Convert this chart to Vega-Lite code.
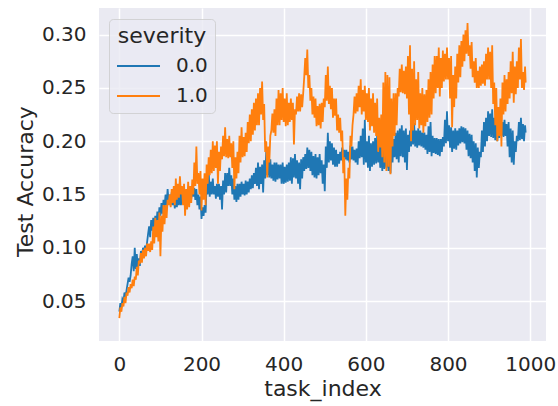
{
  "$schema": "https://vega.github.io/schema/vega-lite/v6.json",
  "width": 447,
  "height": 333,
  "autosize": "none",
  "padding": {"left": 99, "top": 8, "right": 12, "bottom": 65},
  "background": "white",
  "config": {
    "font": "DejaVu Sans",
    "view": {"fill": "#EAEAF2", "stroke": null},
    "axis": {
      "domain": false,
      "ticks": false,
      "grid": true,
      "gridColor": "white",
      "gridWidth": 1.5,
      "labelFontSize": 20,
      "titleFontSize": 22,
      "labelColor": "#262626",
      "titleColor": "#262626",
      "titleFontWeight": "normal",
      "labelPadding": 13
    }
  },
  "data": {"values": [
{"t":0,"s":"0.0","v":0.040},{"t":2.5,"s":"0.0","v":0.048},{"t":5,"s":"0.0","v":0.044},{"t":7.5,"s":"0.0","v":0.052},
{"t":10,"s":"0.0","v":0.050},{"t":12.5,"s":"0.0","v":0.058},{"t":15,"s":"0.0","v":0.053},{"t":17.5,"s":"0.0","v":0.060},
{"t":20,"s":"0.0","v":0.066},{"t":22.5,"s":"0.0","v":0.072},{"t":25,"s":"0.0","v":0.068},{"t":27.5,"s":"0.0","v":0.074},
{"t":30,"s":"0.0","v":0.085},{"t":32.5,"s":"0.0","v":0.092},{"t":35,"s":"0.0","v":0.078},{"t":37.5,"s":"0.0","v":0.100},
{"t":40,"s":"0.0","v":0.080},{"t":42.5,"s":"0.0","v":0.094},{"t":45,"s":"0.0","v":0.082},{"t":47.5,"s":"0.0","v":0.090},
{"t":50,"s":"0.0","v":0.083},{"t":52.5,"s":"0.0","v":0.097},{"t":55,"s":"0.0","v":0.088},{"t":57.5,"s":"0.0","v":0.100},
{"t":60,"s":"0.0","v":0.094},{"t":62.5,"s":"0.0","v":0.102},{"t":65,"s":"0.0","v":0.098},{"t":67.5,"s":"0.0","v":0.105},
{"t":70,"s":"0.0","v":0.113},{"t":72.5,"s":"0.0","v":0.120},{"t":75,"s":"0.0","v":0.110},{"t":77.5,"s":"0.0","v":0.126},
{"t":80,"s":"0.0","v":0.116},{"t":82.5,"s":"0.0","v":0.128},{"t":85,"s":"0.0","v":0.118},{"t":87.5,"s":"0.0","v":0.130},
{"t":90,"s":"0.0","v":0.120},{"t":92.5,"s":"0.0","v":0.134},{"t":95,"s":"0.0","v":0.124},{"t":97.5,"s":"0.0","v":0.138},
{"t":100,"s":"0.0","v":0.130},{"t":102.5,"s":"0.0","v":0.142},{"t":105,"s":"0.0","v":0.132},{"t":107.5,"s":"0.0","v":0.145},
{"t":110,"s":"0.0","v":0.138},{"t":112.5,"s":"0.0","v":0.150},{"t":115,"s":"0.0","v":0.140},{"t":117.5,"s":"0.0","v":0.155},
{"t":120,"s":"0.0","v":0.143},{"t":122.5,"s":"0.0","v":0.150},{"t":125,"s":"0.0","v":0.140},{"t":127.5,"s":"0.0","v":0.152},
{"t":130,"s":"0.0","v":0.140},{"t":132.5,"s":"0.0","v":0.148},{"t":135,"s":"0.0","v":0.137},{"t":137.5,"s":"0.0","v":0.150},
{"t":140,"s":"0.0","v":0.138},{"t":142.5,"s":"0.0","v":0.149},{"t":145,"s":"0.0","v":0.140},{"t":147.5,"s":"0.0","v":0.152},
{"t":150,"s":"0.0","v":0.140},{"t":152.5,"s":"0.0","v":0.152},{"t":155,"s":"0.0","v":0.143},{"t":157.5,"s":"0.0","v":0.155},
{"t":160,"s":"0.0","v":0.142},{"t":162.5,"s":"0.0","v":0.150},{"t":165,"s":"0.0","v":0.141},{"t":167.5,"s":"0.0","v":0.153},
{"t":170,"s":"0.0","v":0.145},{"t":172.5,"s":"0.0","v":0.155},{"t":175,"s":"0.0","v":0.146},{"t":177.5,"s":"0.0","v":0.158},
{"t":180,"s":"0.0","v":0.148},{"t":182.5,"s":"0.0","v":0.156},{"t":185,"s":"0.0","v":0.145},{"t":187.5,"s":"0.0","v":0.155},
{"t":190,"s":"0.0","v":0.140},{"t":192.5,"s":"0.0","v":0.150},{"t":195,"s":"0.0","v":0.136},{"t":197.5,"s":"0.0","v":0.148},
{"t":200,"s":"0.0","v":0.127},{"t":202.5,"s":"0.0","v":0.138},{"t":205,"s":"0.0","v":0.130},{"t":207.5,"s":"0.0","v":0.140},
{"t":210,"s":"0.0","v":0.133},{"t":212.5,"s":"0.0","v":0.160},{"t":215,"s":"0.0","v":0.150},{"t":217.5,"s":"0.0","v":0.172},
{"t":220,"s":"0.0","v":0.148},{"t":222.5,"s":"0.0","v":0.162},{"t":225,"s":"0.0","v":0.150},{"t":227.5,"s":"0.0","v":0.165},
{"t":230,"s":"0.0","v":0.150},{"t":232.5,"s":"0.0","v":0.158},{"t":235,"s":"0.0","v":0.146},{"t":237.5,"s":"0.0","v":0.160},
{"t":240,"s":"0.0","v":0.148},{"t":242.5,"s":"0.0","v":0.160},{"t":245,"s":"0.0","v":0.145},{"t":247.5,"s":"0.0","v":0.158},
{"t":250,"s":"0.0","v":0.136},{"t":252.5,"s":"0.0","v":0.163},{"t":255,"s":"0.0","v":0.150},{"t":257.5,"s":"0.0","v":0.170},
{"t":260,"s":"0.0","v":0.152},{"t":262.5,"s":"0.0","v":0.170},{"t":265,"s":"0.0","v":0.158},{"t":267.5,"s":"0.0","v":0.175},
{"t":270,"s":"0.0","v":0.158},{"t":272.5,"s":"0.0","v":0.168},{"t":275,"s":"0.0","v":0.150},{"t":277.5,"s":"0.0","v":0.165},
{"t":280,"s":"0.0","v":0.145},{"t":282.5,"s":"0.0","v":0.158},{"t":285,"s":"0.0","v":0.143},{"t":287.5,"s":"0.0","v":0.160},
{"t":290,"s":"0.0","v":0.145},{"t":292.5,"s":"0.0","v":0.160},{"t":295,"s":"0.0","v":0.148},{"t":297.5,"s":"0.0","v":0.162},
{"t":300,"s":"0.0","v":0.150},{"t":302.5,"s":"0.0","v":0.160},{"t":305,"s":"0.0","v":0.149},{"t":307.5,"s":"0.0","v":0.163},
{"t":310,"s":"0.0","v":0.150},{"t":312.5,"s":"0.0","v":0.162},{"t":315,"s":"0.0","v":0.152},{"t":317.5,"s":"0.0","v":0.165},
{"t":320,"s":"0.0","v":0.155},{"t":322.5,"s":"0.0","v":0.168},{"t":325,"s":"0.0","v":0.156},{"t":327.5,"s":"0.0","v":0.170},
{"t":330,"s":"0.0","v":0.160},{"t":332.5,"s":"0.0","v":0.175},{"t":335,"s":"0.0","v":0.158},{"t":337.5,"s":"0.0","v":0.180},
{"t":340,"s":"0.0","v":0.155},{"t":342.5,"s":"0.0","v":0.176},{"t":345,"s":"0.0","v":0.160},{"t":347.5,"s":"0.0","v":0.178},
{"t":350,"s":"0.0","v":0.152},{"t":352.5,"s":"0.0","v":0.182},{"t":355,"s":"0.0","v":0.165},{"t":357.5,"s":"0.0","v":0.190},
{"t":360,"s":"0.0","v":0.168},{"t":362.5,"s":"0.0","v":0.184},{"t":365,"s":"0.0","v":0.166},{"t":367.5,"s":"0.0","v":0.183},
{"t":370,"s":"0.0","v":0.165},{"t":372.5,"s":"0.0","v":0.178},{"t":375,"s":"0.0","v":0.163},{"t":377.5,"s":"0.0","v":0.180},
{"t":380,"s":"0.0","v":0.162},{"t":382.5,"s":"0.0","v":0.180},{"t":385,"s":"0.0","v":0.164},{"t":387.5,"s":"0.0","v":0.178},
{"t":390,"s":"0.0","v":0.165},{"t":392.5,"s":"0.0","v":0.178},{"t":395,"s":"0.0","v":0.160},{"t":397.5,"s":"0.0","v":0.180},
{"t":400,"s":"0.0","v":0.160},{"t":402.5,"s":"0.0","v":0.176},{"t":405,"s":"0.0","v":0.161},{"t":407.5,"s":"0.0","v":0.178},
{"t":410,"s":"0.0","v":0.162},{"t":412.5,"s":"0.0","v":0.180},{"t":415,"s":"0.0","v":0.163},{"t":417.5,"s":"0.0","v":0.185},
{"t":420,"s":"0.0","v":0.160},{"t":422.5,"s":"0.0","v":0.184},{"t":425,"s":"0.0","v":0.166},{"t":427.5,"s":"0.0","v":0.188},
{"t":430,"s":"0.0","v":0.165},{"t":432.5,"s":"0.0","v":0.182},{"t":435,"s":"0.0","v":0.160},{"t":437.5,"s":"0.0","v":0.180},
{"t":440,"s":"0.0","v":0.155},{"t":442.5,"s":"0.0","v":0.183},{"t":445,"s":"0.0","v":0.165},{"t":447.5,"s":"0.0","v":0.185},
{"t":450,"s":"0.0","v":0.172},{"t":452.5,"s":"0.0","v":0.188},{"t":455,"s":"0.0","v":0.174},{"t":457.5,"s":"0.0","v":0.194},
{"t":460,"s":"0.0","v":0.175},{"t":462.5,"s":"0.0","v":0.192},{"t":465,"s":"0.0","v":0.172},{"t":467.5,"s":"0.0","v":0.190},
{"t":470,"s":"0.0","v":0.168},{"t":472.5,"s":"0.0","v":0.186},{"t":475,"s":"0.0","v":0.166},{"t":477.5,"s":"0.0","v":0.188},
{"t":480,"s":"0.0","v":0.165},{"t":482.5,"s":"0.0","v":0.185},{"t":485,"s":"0.0","v":0.168},{"t":487.5,"s":"0.0","v":0.188},
{"t":490,"s":"0.0","v":0.170},{"t":492.5,"s":"0.0","v":0.182},{"t":495,"s":"0.0","v":0.160},{"t":497.5,"s":"0.0","v":0.178},
{"t":500,"s":"0.0","v":0.153},{"t":502.5,"s":"0.0","v":0.195},{"t":505,"s":"0.0","v":0.175},{"t":507.5,"s":"0.0","v":0.208},
{"t":510,"s":"0.0","v":0.180},{"t":512.5,"s":"0.0","v":0.200},{"t":515,"s":"0.0","v":0.182},{"t":517.5,"s":"0.0","v":0.198},
{"t":520,"s":"0.0","v":0.178},{"t":522.5,"s":"0.0","v":0.194},{"t":525,"s":"0.0","v":0.176},{"t":527.5,"s":"0.0","v":0.192},
{"t":530,"s":"0.0","v":0.176},{"t":532.5,"s":"0.0","v":0.188},{"t":535,"s":"0.0","v":0.179},{"t":537.5,"s":"0.0","v":0.190},
{"t":540,"s":"0.0","v":0.182},{"t":542.5,"s":"0.0","v":0.194},{"t":545,"s":"0.0","v":0.181},{"t":547.5,"s":"0.0","v":0.192},
{"t":550,"s":"0.0","v":0.183},{"t":552.5,"s":"0.0","v":0.192},{"t":555,"s":"0.0","v":0.182},{"t":557.5,"s":"0.0","v":0.190},
{"t":560,"s":"0.0","v":0.180},{"t":562.5,"s":"0.0","v":0.196},{"t":565,"s":"0.0","v":0.183},{"t":567.5,"s":"0.0","v":0.195},
{"t":570,"s":"0.0","v":0.182},{"t":572.5,"s":"0.0","v":0.192},{"t":575,"s":"0.0","v":0.180},{"t":577.5,"s":"0.0","v":0.193},
{"t":580,"s":"0.0","v":0.178},{"t":582.5,"s":"0.0","v":0.200},{"t":585,"s":"0.0","v":0.184},{"t":587.5,"s":"0.0","v":0.205},
{"t":590,"s":"0.0","v":0.185},{"t":592.5,"s":"0.0","v":0.212},{"t":595,"s":"0.0","v":0.178},{"t":597.5,"s":"0.0","v":0.220},
{"t":600,"s":"0.0","v":0.180},{"t":602.5,"s":"0.0","v":0.200},{"t":605,"s":"0.0","v":0.175},{"t":607.5,"s":"0.0","v":0.205},
{"t":610,"s":"0.0","v":0.172},{"t":612.5,"s":"0.0","v":0.198},{"t":615,"s":"0.0","v":0.176},{"t":617.5,"s":"0.0","v":0.200},
{"t":620,"s":"0.0","v":0.178},{"t":622.5,"s":"0.0","v":0.203},{"t":625,"s":"0.0","v":0.179},{"t":627.5,"s":"0.0","v":0.205},
{"t":630,"s":"0.0","v":0.180},{"t":632.5,"s":"0.0","v":0.200},{"t":635,"s":"0.0","v":0.175},{"t":637.5,"s":"0.0","v":0.198},
{"t":640,"s":"0.0","v":0.172},{"t":642.5,"s":"0.0","v":0.198},{"t":645,"s":"0.0","v":0.174},{"t":647.5,"s":"0.0","v":0.200},
{"t":650,"s":"0.0","v":0.175},{"t":652.5,"s":"0.0","v":0.200},{"t":655,"s":"0.0","v":0.172},{"t":657.5,"s":"0.0","v":0.198},
{"t":660,"s":"0.0","v":0.170},{"t":662.5,"s":"0.0","v":0.200},{"t":665,"s":"0.0","v":0.180},{"t":667.5,"s":"0.0","v":0.202},
{"t":670,"s":"0.0","v":0.185},{"t":672.5,"s":"0.0","v":0.208},{"t":675,"s":"0.0","v":0.183},{"t":677.5,"s":"0.0","v":0.210},
{"t":680,"s":"0.0","v":0.180},{"t":682.5,"s":"0.0","v":0.212},{"t":685,"s":"0.0","v":0.186},{"t":687.5,"s":"0.0","v":0.215},
{"t":690,"s":"0.0","v":0.185},{"t":692.5,"s":"0.0","v":0.210},{"t":695,"s":"0.0","v":0.180},{"t":697.5,"s":"0.0","v":0.212},
{"t":700,"s":"0.0","v":0.173},{"t":702.5,"s":"0.0","v":0.206},{"t":705,"s":"0.0","v":0.190},{"t":707.5,"s":"0.0","v":0.210},
{"t":710,"s":"0.0","v":0.195},{"t":712.5,"s":"0.0","v":0.214},{"t":715,"s":"0.0","v":0.197},{"t":717.5,"s":"0.0","v":0.217},
{"t":720,"s":"0.0","v":0.195},{"t":722.5,"s":"0.0","v":0.210},{"t":725,"s":"0.0","v":0.194},{"t":727.5,"s":"0.0","v":0.212},
{"t":730,"s":"0.0","v":0.196},{"t":732.5,"s":"0.0","v":0.210},{"t":735,"s":"0.0","v":0.195},{"t":737.5,"s":"0.0","v":0.208},
{"t":740,"s":"0.0","v":0.194},{"t":742.5,"s":"0.0","v":0.208},{"t":745,"s":"0.0","v":0.192},{"t":747.5,"s":"0.0","v":0.206},
{"t":750,"s":"0.0","v":0.188},{"t":752.5,"s":"0.0","v":0.214},{"t":755,"s":"0.0","v":0.190},{"t":757.5,"s":"0.0","v":0.218},
{"t":760,"s":"0.0","v":0.186},{"t":762.5,"s":"0.0","v":0.205},{"t":765,"s":"0.0","v":0.189},{"t":767.5,"s":"0.0","v":0.203},
{"t":770,"s":"0.0","v":0.188},{"t":772.5,"s":"0.0","v":0.203},{"t":775,"s":"0.0","v":0.187},{"t":777.5,"s":"0.0","v":0.202},
{"t":780,"s":"0.0","v":0.186},{"t":782.5,"s":"0.0","v":0.202},{"t":785,"s":"0.0","v":0.190},{"t":787.5,"s":"0.0","v":0.204},
{"t":790,"s":"0.0","v":0.195},{"t":792.5,"s":"0.0","v":0.220},{"t":795,"s":"0.0","v":0.198},{"t":797.5,"s":"0.0","v":0.228},
{"t":800,"s":"0.0","v":0.200},{"t":802.5,"s":"0.0","v":0.215},{"t":805,"s":"0.0","v":0.194},{"t":807.5,"s":"0.0","v":0.213},
{"t":810,"s":"0.0","v":0.190},{"t":812.5,"s":"0.0","v":0.210},{"t":815,"s":"0.0","v":0.193},{"t":817.5,"s":"0.0","v":0.212},
{"t":820,"s":"0.0","v":0.192},{"t":822.5,"s":"0.0","v":0.210},{"t":825,"s":"0.0","v":0.196},{"t":827.5,"s":"0.0","v":0.212},
{"t":830,"s":"0.0","v":0.198},{"t":832.5,"s":"0.0","v":0.214},{"t":835,"s":"0.0","v":0.199},{"t":837.5,"s":"0.0","v":0.213},
{"t":840,"s":"0.0","v":0.198},{"t":842.5,"s":"0.0","v":0.212},{"t":845,"s":"0.0","v":0.192},{"t":847.5,"s":"0.0","v":0.210},
{"t":850,"s":"0.0","v":0.186},{"t":852.5,"s":"0.0","v":0.207},{"t":855,"s":"0.0","v":0.184},{"t":857.5,"s":"0.0","v":0.206},
{"t":860,"s":"0.0","v":0.180},{"t":862.5,"s":"0.0","v":0.200},{"t":865,"s":"0.0","v":0.172},{"t":867.5,"s":"0.0","v":0.198},
{"t":870,"s":"0.0","v":0.166},{"t":872.5,"s":"0.0","v":0.194},{"t":875,"s":"0.0","v":0.175},{"t":877.5,"s":"0.0","v":0.190},
{"t":880,"s":"0.0","v":0.185},{"t":882.5,"s":"0.0","v":0.210},{"t":885,"s":"0.0","v":0.190},{"t":887.5,"s":"0.0","v":0.218},
{"t":890,"s":"0.0","v":0.195},{"t":892.5,"s":"0.0","v":0.222},{"t":895,"s":"0.0","v":0.200},{"t":897.5,"s":"0.0","v":0.228},
{"t":900,"s":"0.0","v":0.205},{"t":902.5,"s":"0.0","v":0.226},{"t":905,"s":"0.0","v":0.204},{"t":907.5,"s":"0.0","v":0.230},
{"t":910,"s":"0.0","v":0.203},{"t":912.5,"s":"0.0","v":0.222},{"t":915,"s":"0.0","v":0.201},{"t":917.5,"s":"0.0","v":0.225},
{"t":920,"s":"0.0","v":0.200},{"t":922.5,"s":"0.0","v":0.218},{"t":925,"s":"0.0","v":0.203},{"t":927.5,"s":"0.0","v":0.220},
{"t":930,"s":"0.0","v":0.205},{"t":932.5,"s":"0.0","v":0.218},{"t":935,"s":"0.0","v":0.204},{"t":937.5,"s":"0.0","v":0.220},
{"t":940,"s":"0.0","v":0.205},{"t":942.5,"s":"0.0","v":0.216},{"t":945,"s":"0.0","v":0.195},{"t":947.5,"s":"0.0","v":0.218},
{"t":950,"s":"0.0","v":0.185},{"t":952.5,"s":"0.0","v":0.212},{"t":955,"s":"0.0","v":0.180},{"t":957.5,"s":"0.0","v":0.210},
{"t":960,"s":"0.0","v":0.178},{"t":962.5,"s":"0.0","v":0.200},{"t":965,"s":"0.0","v":0.190},{"t":967.5,"s":"0.0","v":0.205},
{"t":970,"s":"0.0","v":0.200},{"t":972.5,"s":"0.0","v":0.218},{"t":975,"s":"0.0","v":0.201},{"t":977.5,"s":"0.0","v":0.222},
{"t":980,"s":"0.0","v":0.202},{"t":982.5,"s":"0.0","v":0.216},{"t":985,"s":"0.0","v":0.200},{"t":987.5,"s":"0.0","v":0.215},
{"t":989,"s":"0.0","v":0.208},
{"t":0,"s":"1.0","v":0.034},{"t":2.5,"s":"1.0","v":0.044},{"t":5,"s":"1.0","v":0.040},{"t":7.5,"s":"1.0","v":0.048},
{"t":10,"s":"1.0","v":0.045},{"t":12.5,"s":"1.0","v":0.054},{"t":15,"s":"1.0","v":0.048},{"t":17.5,"s":"1.0","v":0.058},
{"t":20,"s":"1.0","v":0.055},{"t":22.5,"s":"1.0","v":0.063},{"t":25,"s":"1.0","v":0.058},{"t":27.5,"s":"1.0","v":0.066},
{"t":30,"s":"1.0","v":0.062},{"t":32.5,"s":"1.0","v":0.070},{"t":35,"s":"1.0","v":0.064},{"t":37.5,"s":"1.0","v":0.073},
{"t":40,"s":"1.0","v":0.070},{"t":42.5,"s":"1.0","v":0.082},{"t":45,"s":"1.0","v":0.074},{"t":47.5,"s":"1.0","v":0.088},
{"t":50,"s":"1.0","v":0.085},{"t":52.5,"s":"1.0","v":0.095},{"t":55,"s":"1.0","v":0.086},{"t":57.5,"s":"1.0","v":0.098},
{"t":60,"s":"1.0","v":0.090},{"t":62.5,"s":"1.0","v":0.100},{"t":65,"s":"1.0","v":0.092},{"t":67.5,"s":"1.0","v":0.104},
{"t":70,"s":"1.0","v":0.097},{"t":72.5,"s":"1.0","v":0.104},{"t":75,"s":"1.0","v":0.096},{"t":77.5,"s":"1.0","v":0.106},
{"t":80,"s":"1.0","v":0.098},{"t":82.5,"s":"1.0","v":0.120},{"t":85,"s":"1.0","v":0.104},{"t":87.5,"s":"1.0","v":0.128},
{"t":90,"s":"1.0","v":0.110},{"t":92.5,"s":"1.0","v":0.126},{"t":95,"s":"1.0","v":0.106},{"t":97.5,"s":"1.0","v":0.133},
{"t":100,"s":"1.0","v":0.092},{"t":102.5,"s":"1.0","v":0.130},{"t":105,"s":"1.0","v":0.115},{"t":107.5,"s":"1.0","v":0.140},
{"t":110,"s":"1.0","v":0.122},{"t":112.5,"s":"1.0","v":0.140},{"t":115,"s":"1.0","v":0.128},{"t":117.5,"s":"1.0","v":0.145},
{"t":120,"s":"1.0","v":0.140},{"t":122.5,"s":"1.0","v":0.150},{"t":125,"s":"1.0","v":0.138},{"t":127.5,"s":"1.0","v":0.155},
{"t":130,"s":"1.0","v":0.142},{"t":132.5,"s":"1.0","v":0.158},{"t":135,"s":"1.0","v":0.140},{"t":137.5,"s":"1.0","v":0.165},
{"t":140,"s":"1.0","v":0.145},{"t":142.5,"s":"1.0","v":0.160},{"t":145,"s":"1.0","v":0.147},{"t":147.5,"s":"1.0","v":0.167},
{"t":150,"s":"1.0","v":0.150},{"t":152.5,"s":"1.0","v":0.158},{"t":155,"s":"1.0","v":0.140},{"t":157.5,"s":"1.0","v":0.160},
{"t":160,"s":"1.0","v":0.130},{"t":162.5,"s":"1.0","v":0.155},{"t":165,"s":"1.0","v":0.136},{"t":167.5,"s":"1.0","v":0.162},
{"t":170,"s":"1.0","v":0.138},{"t":172.5,"s":"1.0","v":0.158},{"t":175,"s":"1.0","v":0.142},{"t":177.5,"s":"1.0","v":0.164},
{"t":180,"s":"1.0","v":0.150},{"t":182.5,"s":"1.0","v":0.180},{"t":185,"s":"1.0","v":0.158},{"t":187.5,"s":"1.0","v":0.195},
{"t":190,"s":"1.0","v":0.160},{"t":192.5,"s":"1.0","v":0.170},{"t":195,"s":"1.0","v":0.150},{"t":197.5,"s":"1.0","v":0.172},
{"t":200,"s":"1.0","v":0.135},{"t":202.5,"s":"1.0","v":0.165},{"t":205,"s":"1.0","v":0.145},{"t":207.5,"s":"1.0","v":0.170},
{"t":210,"s":"1.0","v":0.140},{"t":212.5,"s":"1.0","v":0.178},{"t":215,"s":"1.0","v":0.160},{"t":217.5,"s":"1.0","v":0.185},
{"t":220,"s":"1.0","v":0.168},{"t":222.5,"s":"1.0","v":0.192},{"t":225,"s":"1.0","v":0.170},{"t":227.5,"s":"1.0","v":0.200},
{"t":230,"s":"1.0","v":0.172},{"t":232.5,"s":"1.0","v":0.196},{"t":235,"s":"1.0","v":0.175},{"t":237.5,"s":"1.0","v":0.200},
{"t":240,"s":"1.0","v":0.160},{"t":242.5,"s":"1.0","v":0.190},{"t":245,"s":"1.0","v":0.172},{"t":247.5,"s":"1.0","v":0.195},
{"t":250,"s":"1.0","v":0.183},{"t":252.5,"s":"1.0","v":0.205},{"t":255,"s":"1.0","v":0.186},{"t":257.5,"s":"1.0","v":0.213},
{"t":260,"s":"1.0","v":0.185},{"t":262.5,"s":"1.0","v":0.202},{"t":265,"s":"1.0","v":0.184},{"t":267.5,"s":"1.0","v":0.205},
{"t":270,"s":"1.0","v":0.185},{"t":272.5,"s":"1.0","v":0.198},{"t":275,"s":"1.0","v":0.175},{"t":277.5,"s":"1.0","v":0.200},
{"t":280,"s":"1.0","v":0.155},{"t":282.5,"s":"1.0","v":0.185},{"t":285,"s":"1.0","v":0.165},{"t":287.5,"s":"1.0","v":0.190},
{"t":290,"s":"1.0","v":0.170},{"t":292.5,"s":"1.0","v":0.205},{"t":295,"s":"1.0","v":0.180},{"t":297.5,"s":"1.0","v":0.213},
{"t":300,"s":"1.0","v":0.185},{"t":302.5,"s":"1.0","v":0.204},{"t":305,"s":"1.0","v":0.186},{"t":307.5,"s":"1.0","v":0.208},
{"t":310,"s":"1.0","v":0.190},{"t":312.5,"s":"1.0","v":0.218},{"t":315,"s":"1.0","v":0.198},{"t":317.5,"s":"1.0","v":0.225},
{"t":320,"s":"1.0","v":0.200},{"t":322.5,"s":"1.0","v":0.230},{"t":325,"s":"1.0","v":0.206},{"t":327.5,"s":"1.0","v":0.236},
{"t":330,"s":"1.0","v":0.210},{"t":332.5,"s":"1.0","v":0.240},{"t":335,"s":"1.0","v":0.215},{"t":337.5,"s":"1.0","v":0.245},
{"t":340,"s":"1.0","v":0.215},{"t":342.5,"s":"1.0","v":0.250},{"t":345,"s":"1.0","v":0.225},{"t":347.5,"s":"1.0","v":0.256},
{"t":350,"s":"1.0","v":0.220},{"t":352.5,"s":"1.0","v":0.235},{"t":355,"s":"1.0","v":0.190},{"t":357.5,"s":"1.0","v":0.200},
{"t":360,"s":"1.0","v":0.166},{"t":362.5,"s":"1.0","v":0.195},{"t":365,"s":"1.0","v":0.180},{"t":367.5,"s":"1.0","v":0.205},
{"t":370,"s":"1.0","v":0.210},{"t":372.5,"s":"1.0","v":0.226},{"t":375,"s":"1.0","v":0.208},{"t":377.5,"s":"1.0","v":0.230},
{"t":380,"s":"1.0","v":0.205},{"t":382.5,"s":"1.0","v":0.240},{"t":385,"s":"1.0","v":0.215},{"t":387.5,"s":"1.0","v":0.248},
{"t":390,"s":"1.0","v":0.215},{"t":392.5,"s":"1.0","v":0.245},{"t":395,"s":"1.0","v":0.220},{"t":397.5,"s":"1.0","v":0.250},
{"t":400,"s":"1.0","v":0.218},{"t":402.5,"s":"1.0","v":0.240},{"t":405,"s":"1.0","v":0.214},{"t":407.5,"s":"1.0","v":0.245},
{"t":410,"s":"1.0","v":0.215},{"t":412.5,"s":"1.0","v":0.236},{"t":415,"s":"1.0","v":0.218},{"t":417.5,"s":"1.0","v":0.240},
{"t":420,"s":"1.0","v":0.220},{"t":422.5,"s":"1.0","v":0.236},{"t":425,"s":"1.0","v":0.197},{"t":427.5,"s":"1.0","v":0.230},
{"t":430,"s":"1.0","v":0.225},{"t":432.5,"s":"1.0","v":0.242},{"t":435,"s":"1.0","v":0.228},{"t":437.5,"s":"1.0","v":0.245},
{"t":440,"s":"1.0","v":0.228},{"t":442.5,"s":"1.0","v":0.244},{"t":445,"s":"1.0","v":0.232},{"t":447.5,"s":"1.0","v":0.245},
{"t":450,"s":"1.0","v":0.260},{"t":452.5,"s":"1.0","v":0.278},{"t":455,"s":"1.0","v":0.262},{"t":457.5,"s":"1.0","v":0.286},
{"t":460,"s":"1.0","v":0.250},{"t":462.5,"s":"1.0","v":0.262},{"t":465,"s":"1.0","v":0.238},{"t":467.5,"s":"1.0","v":0.250},
{"t":470,"s":"1.0","v":0.225},{"t":472.5,"s":"1.0","v":0.242},{"t":475,"s":"1.0","v":0.222},{"t":477.5,"s":"1.0","v":0.240},
{"t":480,"s":"1.0","v":0.214},{"t":482.5,"s":"1.0","v":0.233},{"t":485,"s":"1.0","v":0.215},{"t":487.5,"s":"1.0","v":0.235},
{"t":490,"s":"1.0","v":0.212},{"t":492.5,"s":"1.0","v":0.236},{"t":495,"s":"1.0","v":0.218},{"t":497.5,"s":"1.0","v":0.240},
{"t":500,"s":"1.0","v":0.232},{"t":502.5,"s":"1.0","v":0.262},{"t":505,"s":"1.0","v":0.238},{"t":507.5,"s":"1.0","v":0.270},
{"t":510,"s":"1.0","v":0.235},{"t":512.5,"s":"1.0","v":0.252},{"t":515,"s":"1.0","v":0.230},{"t":517.5,"s":"1.0","v":0.250},
{"t":520,"s":"1.0","v":0.222},{"t":522.5,"s":"1.0","v":0.240},{"t":525,"s":"1.0","v":0.224},{"t":527.5,"s":"1.0","v":0.240},
{"t":530,"s":"1.0","v":0.210},{"t":532.5,"s":"1.0","v":0.225},{"t":535,"s":"1.0","v":0.208},{"t":537.5,"s":"1.0","v":0.222},
{"t":540,"s":"1.0","v":0.200},{"t":542.5,"s":"1.0","v":0.210},{"t":545,"s":"1.0","v":0.170},{"t":547.5,"s":"1.0","v":0.185},
{"t":550,"s":"1.0","v":0.130},{"t":552.5,"s":"1.0","v":0.165},{"t":555,"s":"1.0","v":0.145},{"t":557.5,"s":"1.0","v":0.175},
{"t":560,"s":"1.0","v":0.165},{"t":562.5,"s":"1.0","v":0.205},{"t":565,"s":"1.0","v":0.195},{"t":567.5,"s":"1.0","v":0.215},
{"t":570,"s":"1.0","v":0.225},{"t":572.5,"s":"1.0","v":0.242},{"t":575,"s":"1.0","v":0.226},{"t":577.5,"s":"1.0","v":0.245},
{"t":580,"s":"1.0","v":0.228},{"t":582.5,"s":"1.0","v":0.252},{"t":585,"s":"1.0","v":0.232},{"t":587.5,"s":"1.0","v":0.258},
{"t":590,"s":"1.0","v":0.225},{"t":592.5,"s":"1.0","v":0.248},{"t":595,"s":"1.0","v":0.228},{"t":597.5,"s":"1.0","v":0.252},
{"t":600,"s":"1.0","v":0.220},{"t":602.5,"s":"1.0","v":0.245},{"t":605,"s":"1.0","v":0.218},{"t":607.5,"s":"1.0","v":0.250},
{"t":610,"s":"1.0","v":0.210},{"t":612.5,"s":"1.0","v":0.240},{"t":615,"s":"1.0","v":0.214},{"t":617.5,"s":"1.0","v":0.245},
{"t":620,"s":"1.0","v":0.208},{"t":622.5,"s":"1.0","v":0.236},{"t":625,"s":"1.0","v":0.205},{"t":627.5,"s":"1.0","v":0.240},
{"t":630,"s":"1.0","v":0.190},{"t":632.5,"s":"1.0","v":0.222},{"t":635,"s":"1.0","v":0.194},{"t":637.5,"s":"1.0","v":0.225},
{"t":640,"s":"1.0","v":0.185},{"t":642.5,"s":"1.0","v":0.255},{"t":645,"s":"1.0","v":0.180},{"t":647.5,"s":"1.0","v":0.265},
{"t":650,"s":"1.0","v":0.172},{"t":652.5,"s":"1.0","v":0.262},{"t":655,"s":"1.0","v":0.176},{"t":657.5,"s":"1.0","v":0.260},
{"t":660,"s":"1.0","v":0.169},{"t":662.5,"s":"1.0","v":0.240},{"t":665,"s":"1.0","v":0.195},{"t":667.5,"s":"1.0","v":0.245},
{"t":670,"s":"1.0","v":0.205},{"t":672.5,"s":"1.0","v":0.245},{"t":675,"s":"1.0","v":0.215},{"t":677.5,"s":"1.0","v":0.250},
{"t":680,"s":"1.0","v":0.242},{"t":682.5,"s":"1.0","v":0.268},{"t":685,"s":"1.0","v":0.246},{"t":687.5,"s":"1.0","v":0.272},
{"t":690,"s":"1.0","v":0.245},{"t":692.5,"s":"1.0","v":0.266},{"t":695,"s":"1.0","v":0.244},{"t":697.5,"s":"1.0","v":0.270},
{"t":700,"s":"1.0","v":0.240},{"t":702.5,"s":"1.0","v":0.280},{"t":705,"s":"1.0","v":0.225},{"t":707.5,"s":"1.0","v":0.290},
{"t":710,"s":"1.0","v":0.200},{"t":712.5,"s":"1.0","v":0.268},{"t":715,"s":"1.0","v":0.210},{"t":717.5,"s":"1.0","v":0.275},
{"t":720,"s":"1.0","v":0.215},{"t":722.5,"s":"1.0","v":0.258},{"t":725,"s":"1.0","v":0.220},{"t":727.5,"s":"1.0","v":0.265},
{"t":730,"s":"1.0","v":0.212},{"t":732.5,"s":"1.0","v":0.245},{"t":735,"s":"1.0","v":0.215},{"t":737.5,"s":"1.0","v":0.250},
{"t":740,"s":"1.0","v":0.208},{"t":742.5,"s":"1.0","v":0.244},{"t":745,"s":"1.0","v":0.214},{"t":747.5,"s":"1.0","v":0.248},
{"t":750,"s":"1.0","v":0.218},{"t":752.5,"s":"1.0","v":0.258},{"t":755,"s":"1.0","v":0.222},{"t":757.5,"s":"1.0","v":0.265},
{"t":760,"s":"1.0","v":0.225},{"t":762.5,"s":"1.0","v":0.272},{"t":765,"s":"1.0","v":0.240},{"t":767.5,"s":"1.0","v":0.280},
{"t":770,"s":"1.0","v":0.245},{"t":772.5,"s":"1.0","v":0.280},{"t":775,"s":"1.0","v":0.250},{"t":777.5,"s":"1.0","v":0.288},
{"t":780,"s":"1.0","v":0.242},{"t":782.5,"s":"1.0","v":0.278},{"t":785,"s":"1.0","v":0.250},{"t":787.5,"s":"1.0","v":0.285},
{"t":790,"s":"1.0","v":0.256},{"t":792.5,"s":"1.0","v":0.282},{"t":795,"s":"1.0","v":0.258},{"t":797.5,"s":"1.0","v":0.288},
{"t":800,"s":"1.0","v":0.258},{"t":802.5,"s":"1.0","v":0.278},{"t":805,"s":"1.0","v":0.240},{"t":807.5,"s":"1.0","v":0.280},
{"t":810,"s":"1.0","v":0.213},{"t":812.5,"s":"1.0","v":0.262},{"t":815,"s":"1.0","v":0.232},{"t":817.5,"s":"1.0","v":0.270},
{"t":820,"s":"1.0","v":0.240},{"t":822.5,"s":"1.0","v":0.282},{"t":825,"s":"1.0","v":0.255},{"t":827.5,"s":"1.0","v":0.290},
{"t":830,"s":"1.0","v":0.260},{"t":832.5,"s":"1.0","v":0.294},{"t":835,"s":"1.0","v":0.270},{"t":837.5,"s":"1.0","v":0.300},
{"t":840,"s":"1.0","v":0.275},{"t":842.5,"s":"1.0","v":0.304},{"t":845,"s":"1.0","v":0.282},{"t":847.5,"s":"1.0","v":0.311},
{"t":850,"s":"1.0","v":0.280},{"t":852.5,"s":"1.0","v":0.290},{"t":855,"s":"1.0","v":0.268},{"t":857.5,"s":"1.0","v":0.293},
{"t":860,"s":"1.0","v":0.260},{"t":862.5,"s":"1.0","v":0.275},{"t":865,"s":"1.0","v":0.255},{"t":867.5,"s":"1.0","v":0.278},
{"t":870,"s":"1.0","v":0.250},{"t":872.5,"s":"1.0","v":0.266},{"t":875,"s":"1.0","v":0.250},{"t":877.5,"s":"1.0","v":0.270},
{"t":880,"s":"1.0","v":0.252},{"t":882.5,"s":"1.0","v":0.272},{"t":885,"s":"1.0","v":0.254},{"t":887.5,"s":"1.0","v":0.275},
{"t":890,"s":"1.0","v":0.252},{"t":892.5,"s":"1.0","v":0.282},{"t":895,"s":"1.0","v":0.258},{"t":897.5,"s":"1.0","v":0.288},
{"t":900,"s":"1.0","v":0.258},{"t":902.5,"s":"1.0","v":0.284},{"t":905,"s":"1.0","v":0.250},{"t":907.5,"s":"1.0","v":0.290},
{"t":910,"s":"1.0","v":0.235},{"t":912.5,"s":"1.0","v":0.255},{"t":915,"s":"1.0","v":0.215},{"t":917.5,"s":"1.0","v":0.250},
{"t":920,"s":"1.0","v":0.200},{"t":922.5,"s":"1.0","v":0.232},{"t":925,"s":"1.0","v":0.205},{"t":927.5,"s":"1.0","v":0.240},
{"t":930,"s":"1.0","v":0.195},{"t":932.5,"s":"1.0","v":0.255},{"t":935,"s":"1.0","v":0.225},{"t":937.5,"s":"1.0","v":0.262},
{"t":940,"s":"1.0","v":0.228},{"t":942.5,"s":"1.0","v":0.258},{"t":945,"s":"1.0","v":0.235},{"t":947.5,"s":"1.0","v":0.265},
{"t":950,"s":"1.0","v":0.240},{"t":952.5,"s":"1.0","v":0.275},{"t":955,"s":"1.0","v":0.245},{"t":957.5,"s":"1.0","v":0.284},
{"t":960,"s":"1.0","v":0.236},{"t":962.5,"s":"1.0","v":0.270},{"t":965,"s":"1.0","v":0.244},{"t":967.5,"s":"1.0","v":0.275},
{"t":970,"s":"1.0","v":0.250},{"t":972.5,"s":"1.0","v":0.288},{"t":975,"s":"1.0","v":0.258},{"t":977.5,"s":"1.0","v":0.296},
{"t":980,"s":"1.0","v":0.250},{"t":982.5,"s":"1.0","v":0.265},{"t":985,"s":"1.0","v":0.248},{"t":987.5,"s":"1.0","v":0.270},
{"t":989,"s":"1.0","v":0.255}
  ]},
  "mark": {"type": "line", "strokeWidth": 1.8, "clip": true},
  "encoding": {
    "x": {
      "field": "t", "type": "quantitative", "title": "task_index",
      "scale": {"domain": [-49.5, 1038.5], "nice": false, "zero": false},
      "axis": {"values": [0, 200, 400, 600, 800, 1000], "format": "d"}
    },
    "y": {
      "field": "v", "type": "quantitative", "title": "Test Accuracy",
      "scale": {"domain": [0.0125, 0.325], "nice": false, "zero": false},
      "axis": {"values": [0.05, 0.10, 0.15, 0.20, 0.25, 0.30], "format": ".2f", "titleY": 173}
    },
    "color": {
      "field": "s", "type": "nominal", "title": "severity",
      "scale": {"domain": ["0.0", "1.0"], "range": ["#1f77b4", "#ff7f0e"]},
      "legend": {
        "orient": "none",
        "legendX": 10,
        "legendY": 11,
        "padding": 7,
        "fillColor": "rgba(234,234,242,0.8)",
        "strokeColor": "rgba(204,204,204,0.8)",
        "cornerRadius": 4,
        "titleFontSize": 22,
        "titleFontWeight": "normal",
        "titleColor": "#262626",
        "titleAnchor": "middle",
        "titlePadding": 7,
        "labelFontSize": 20,
        "labelColor": "#262626",
        "symbolType": "M-1,0H3.3",
        "symbolSize": 400,
        "symbolStrokeWidth": 2,
        "labelOffset": 38,
        "rowPadding": 9
      }
    }
  }
}
